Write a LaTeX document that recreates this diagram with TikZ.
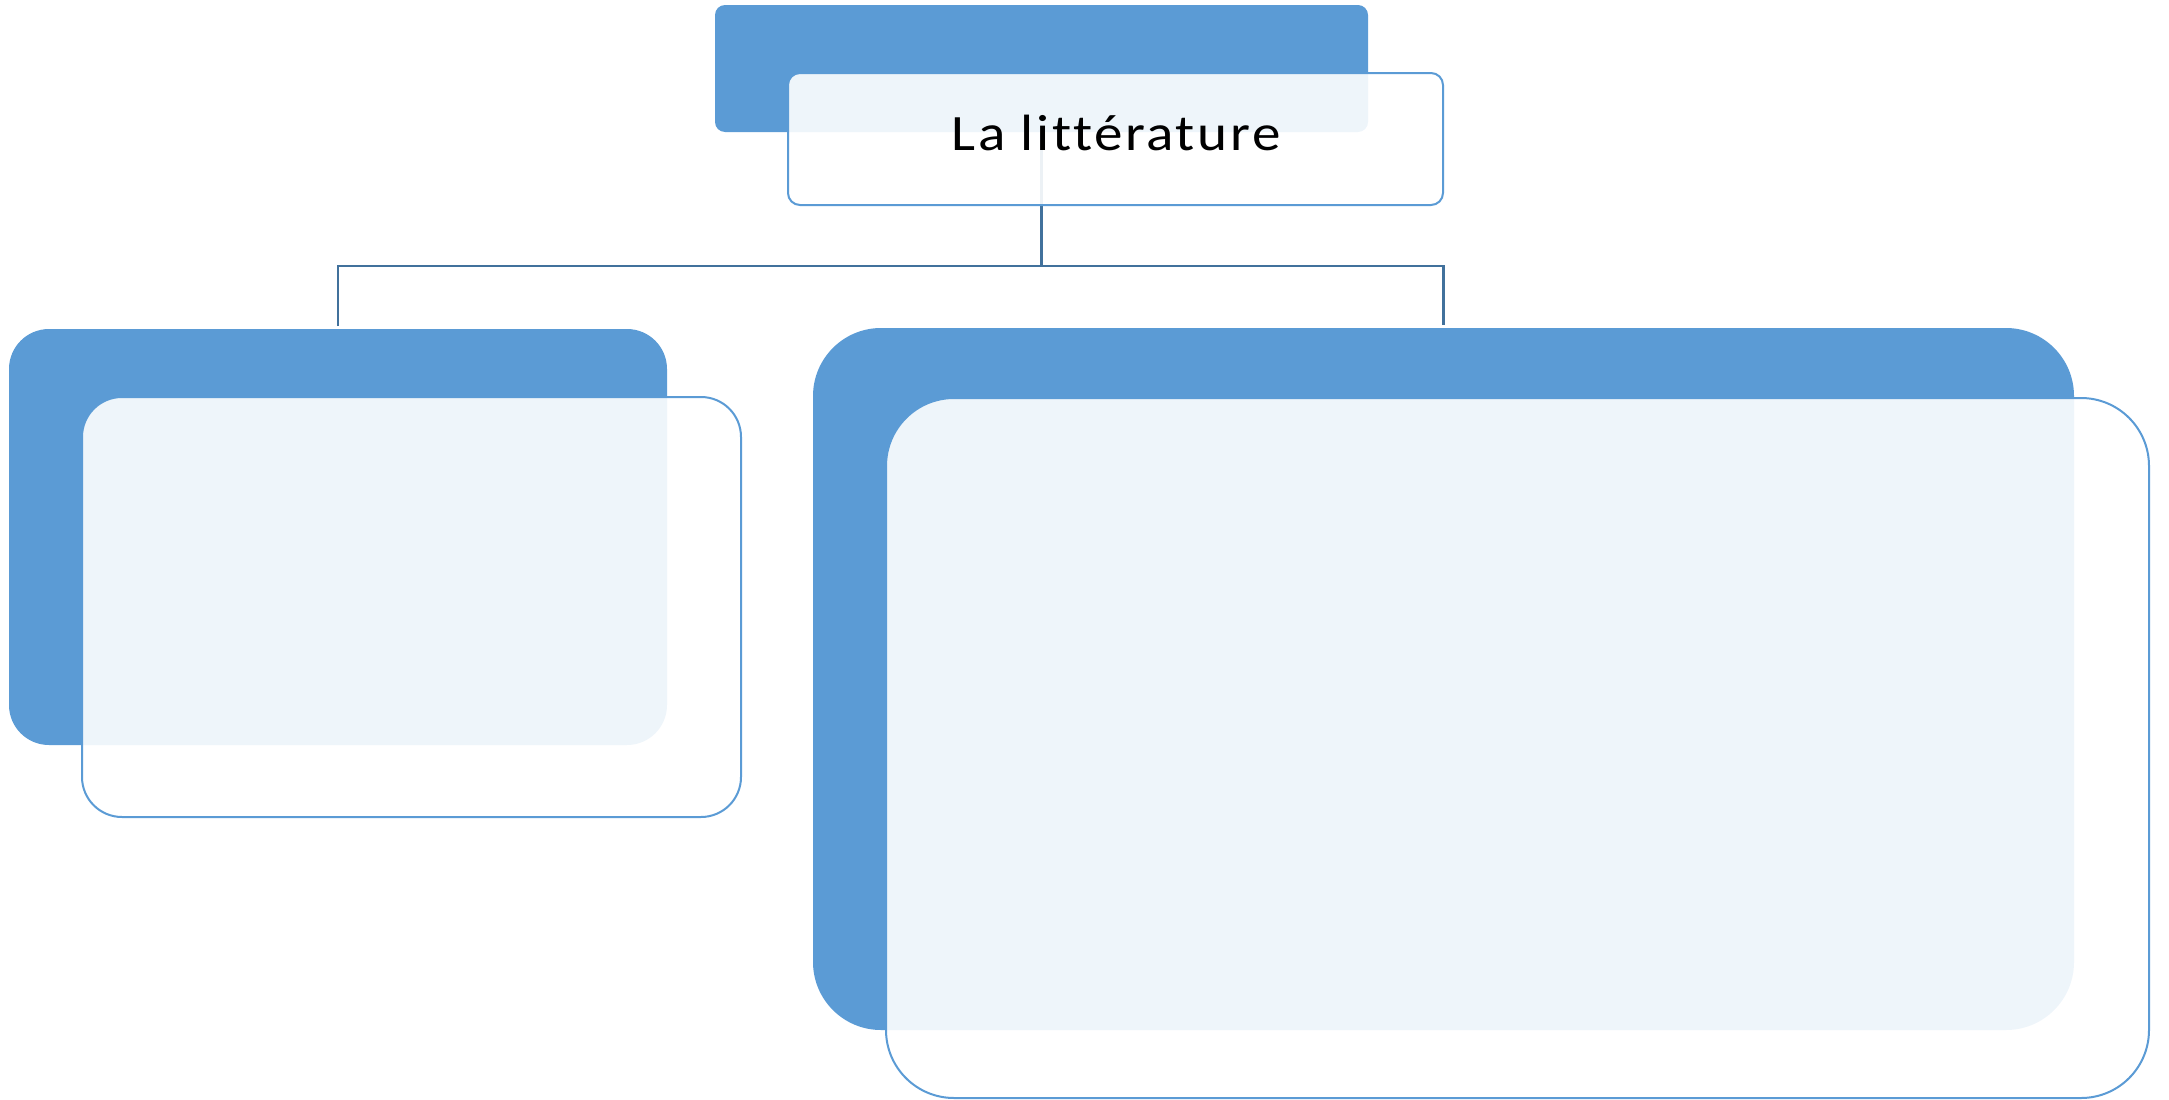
\documentclass[tikz,border=0pt]{standalone}
\usepackage{fontspec}
\usepackage{graphicx}
\setmainfont{Carlito}[Ligatures={NoCommon}]
\newfontfamily\titlefont{Carlito}[Ligatures={NoCommon},LetterSpace=4.5]
\usetikzlibrary{calc}
\definecolor{accent}{HTML}{5B9BD5}
\definecolor{connblue}{HTML}{41719C}
\begin{document}
\begin{tikzpicture}[x=1pt,y=-1pt,
  backbox/.style={rectangle,fill=accent,draw=none,inner sep=0pt,outer sep=0pt},
  frontbox/.style={rectangle,fill=white,fill opacity=0.9,draw=accent,draw opacity=1,line width=2pt,inner sep=0pt,outer sep=0pt},
  conn/.style={draw=connblue,line width=2.2pt}]
\useasboundingbox (0,0) rectangle (2169,1100);
% back boxes
\node[backbox,rounded corners=10pt,minimum width=653pt,minimum height=127pt] (tb) at (1041.5,68.5) {};
\node[backbox,rounded corners=40pt,minimum width=658pt,minimum height=416pt] (lb) at (338,537) {};
\node[backbox,rounded corners=68pt,minimum width=1261pt,minimum height=702pt] (rb) at (1443.5,679) {};
% connectors
\coordinate (bus) at (1041.5,266);
\draw[conn] (tb.south) -- (bus);
\draw[conn] ($(lb.north)+(0,-3)$) |- (bus) -| ($(rb.north)+(0,-3)$);
% front boxes
\node[frontbox,rounded corners=12pt,minimum width=655pt,minimum height=132pt] (tf) at (1115.5,139) {};
\node[frontbox,rounded corners=40pt,minimum width=659pt,minimum height=420pt] (lf) at (411.5,607) {};
\node[frontbox,rounded corners=68pt,minimum width=1263pt,minimum height=700pt] (rf) at (1517.5,748) {};
\node[anchor=base,inner sep=0pt,font=\titlefont\fontsize{51}{60}\selectfont] (title) at (1116,150) {\scalebox{1.12}[1]{La littérature}};
\end{tikzpicture}
\end{document}
